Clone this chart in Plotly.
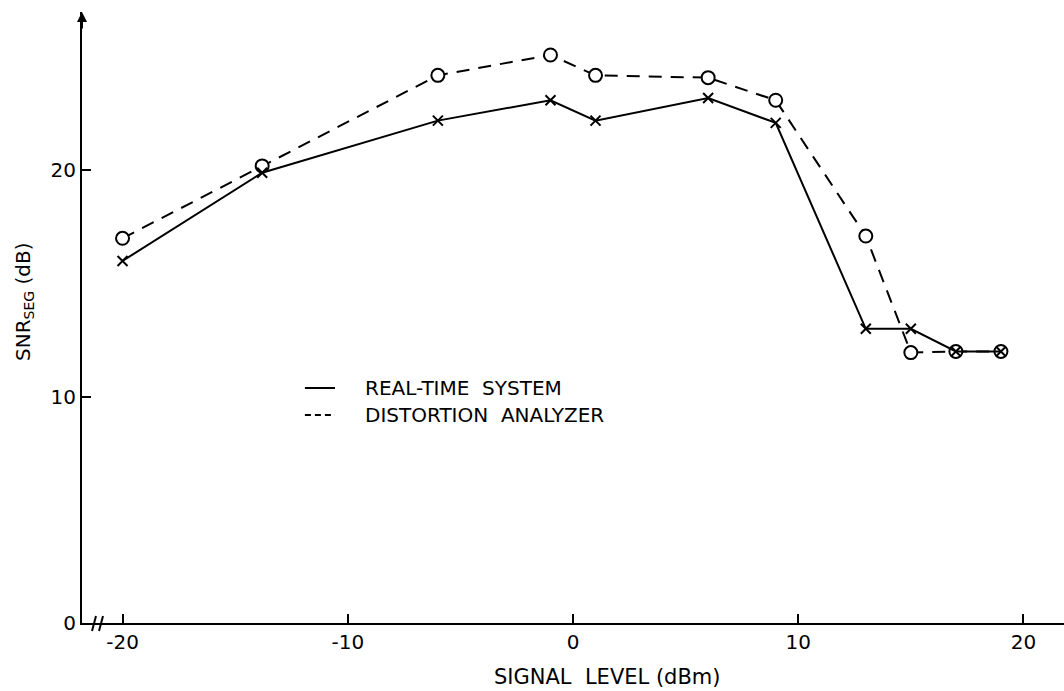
import plotly.graph_objects as go

# Data
signal_level = [-20, -13.8, -6, -1, 1, 6, 9, 13, 15, 17, 19]
real_time = [16.0, 19.9, 22.2, 23.1, 22.2, 23.2, 22.1, 13.0, 13.0, 12.0, 12.0]
distortion = [17.0, 20.2, 24.2, 25.1, 24.2, 24.1, 23.1, 17.1, 11.95, 12.0, 12.0]

x_ticks = [-20, -10, 0, 10, 20]
y_ticks = [0, 10, 20]

FONT = "DejaVu Sans"

fig = go.Figure()

fig.add_trace(go.Scatter(
    x=signal_level, y=distortion, mode="lines+markers",
    line=dict(color="black", width=2, dash="13px,9px"),
    marker=dict(symbol="circle", size=13, color="white",
                line=dict(color="black", width=2)),
    showlegend=False,
))
fig.add_trace(go.Scatter(
    x=signal_level, y=real_time, mode="lines+markers",
    line=dict(color="black", width=2),
    marker=dict(symbol="x-thin", size=10, color="black",
                line=dict(color="black", width=2)),
    showlegend=False,
))

shapes = []
# legend sample lines
shapes.append(dict(type="line", xref="paper", yref="paper",
                   x0=0.227, x1=0.2576, y0=0.3846, y1=0.3846,
                   line=dict(color="black", width=2)))
shapes.append(dict(type="line", xref="paper", yref="paper",
                   x0=0.227, x1=0.2576, y0=0.3404, y1=0.3404,
                   line=dict(color="black", width=2, dash="6px,4px")))
# axis break marks
for px in (92, 99):
    shapes.append(dict(type="line", xref="paper", yref="paper",
                       x0=(px - 82) / 982, x1=(px + 4 - 82) / 982,
                       y0=-8 / 611, y1=7 / 611,
                       line=dict(color="black", width=2)))

annotations = [
    dict(text="REAL-TIME  SYSTEM", xref="paper", yref="paper",
         x=(363 - 82) / 982, y=0.3846, xanchor="left", yanchor="middle",
         showarrow=False, font=dict(family=FONT, size=20, color="black")),
    dict(text="DISTORTION  ANALYZER", xref="paper", yref="paper",
         x=(363 - 82) / 982, y=0.3404, xanchor="left", yanchor="middle",
         showarrow=False, font=dict(family=FONT, size=20, color="black")),
    dict(text="SIGNAL  LEVEL (dBm)", xref="paper", yref="paper",
         x=(607 - 82) / 982, y=-54 / 611, xanchor="center", yanchor="middle",
         showarrow=False, font=dict(family=FONT, size=21, color="black")),
    dict(text="SNR<sub>SEG</sub> (dB)", xref="paper", yref="paper",
         x=(24 - 82) / 982, y=(623 - 302) / 611, xanchor="center", yanchor="middle",
         textangle=-90, showarrow=False,
         font=dict(family=FONT, size=20, color="black")),
    # arrow at the top of the y axis
    dict(text="", xref="paper", yref="paper", x=0, y=1.0,
         ax=0, ay=18, showarrow=True, arrowhead=2, arrowsize=1,
         arrowwidth=2, arrowcolor="black"),
]

fig.update_layout(
    width=1064, height=691,
    margin=dict(l=82, r=0, t=12, b=68),
    paper_bgcolor="white", plot_bgcolor="white",
    font=dict(family=FONT, size=20, color="black"),
    shapes=shapes, annotations=annotations,
    xaxis=dict(range=[-21.8, 21.8], tickvals=x_ticks,
               ticktext=["-20", "-10", "0", "10", "20"],
               ticks="inside", ticklen=9, tickwidth=2, tickcolor="black",
               showline=True, linecolor="black", linewidth=2,
               showgrid=False, zeroline=False,
               tickfont=dict(family=FONT, size=20)),
    yaxis=dict(range=[0, 27], tickvals=y_ticks,
               ticks="inside", ticklen=9, tickwidth=2, tickcolor="black",
               showline=True, linecolor="black", linewidth=2,
               showgrid=False, zeroline=False,
               tickfont=dict(family=FONT, size=20)),
)

fig.write_html("out.html")
